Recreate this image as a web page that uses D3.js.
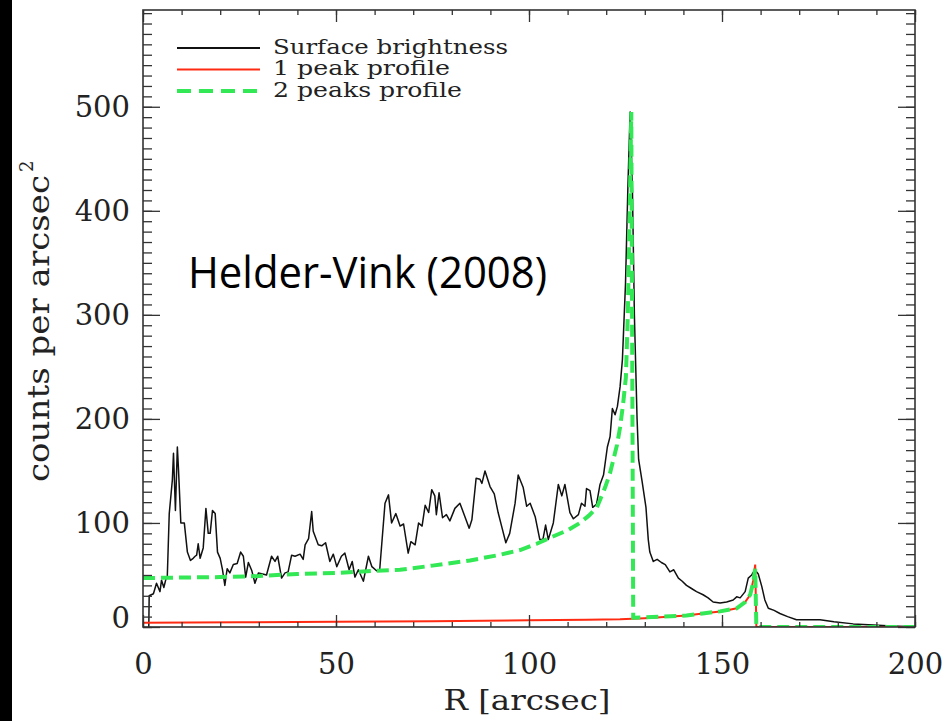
<!DOCTYPE html>
<html>
<head>
<meta charset="utf-8">
<script src="https://cdn.jsdelivr.net/npm/d3@7"></script>
<style>
  body { margin: 0; background: #fff; }
  #chart { width: 945px; height: 721px; }
  .axis text { font-family: "DejaVu Serif", serif; fill: #222; }
</style>
</head>
<body>
<div id="chart"></div>
<script>
/* surface brightness profile (R in arcsec, counts) */
const sbRadius = [1.5, 1.6, 2.7, 3.5, 4.4, 4.8, 5.4, 6.0, 6.3, 6.8, 7.6, 7.9, 8.4, 8.9, 9.2, 9.8, 10.7, 11.5, 12.3, 13.0,
  13.5, 13.9, 14.3, 14.8, 15.6, 16.3, 16.9, 17.4, 18.0, 18.7, 19.3, 20.0, 20.6, 21.2, 21.8, 22.5, 23.4, 24.4, 25.3, 26.0,
  26.6, 27.3, 28.2, 29.0, 29.9, 31.0, 32.0, 33.3, 34.2, 34.9, 35.9, 36.8, 37.6, 38.5, 39.4, 40.7, 41.5, 42.0, 42.9, 43.7,
  44.1, 45.4, 46.3, 47.3, 48.4, 49.3, 50.2, 51.4, 52.3, 53.4, 54.2, 54.9, 55.8, 57.1, 58.4, 59.3, 60.5, 61.3, 62.7, 63.6,
  64.4, 65.5, 66.6, 67.5, 68.7, 69.4, 70.5, 71.4, 72.3, 73.1, 74.0, 74.8, 75.6, 76.0, 76.7, 77.6, 78.6, 79.5, 80.8, 82.1,
  83.4, 84.5, 85.2, 86.3, 87.3, 87.8, 88.6, 89.9, 91.0, 92.0, 92.9, 94.0, 95.0, 96.4, 97.2, 98.5, 99.4, 100.3, 101.6, 102.8,
  103.6, 104.3, 105.0, 106.3, 107.6, 108.5, 109.3, 110.6, 111.5, 112.8, 113.6, 114.5, 114.9, 115.8, 116.5, 117.5, 118.4, 119.3, 120.3, 121.0,
  121.6, 122.3, 122.9, 123.6, 124.2, 125.0, 125.6, 126.2, 126.8, 127.3, 127.6, 128.0, 128.4, 129.3, 130.3, 130.9, 131.3, 132.2, 133.2, 134.3,
  135.3, 136.5, 137.5, 138.7, 139.7, 140.8, 142.1, 143.4, 145.1, 146.4, 147.7, 149.5, 151.2, 152.9, 153.8, 154.7, 156.0, 156.8, 157.7, 158.5,
  159.4, 160.3, 161.1, 162.0, 163.5, 165.0, 167.0, 169.3, 172.0, 175.4, 179.0, 184.0, 189.2, 194.0, 197.8, 200.0];
const sbCounts = [0, 30, 32, 42, 34, 45, 38, 47, 49, 109, 141, 167, 112, 173, 151, 100, 100, 72, 64, 66,
  68, 69, 80, 66, 76, 114, 90, 90, 112, 109, 72, 66, 55, 40, 56, 52, 60, 61, 72, 68,
  48, 62, 54, 42, 52, 51, 50, 68, 63, 68, 47, 52, 53, 69, 68, 70, 65, 79, 85, 111,
  92, 79, 78, 81, 63, 70, 58, 68, 71, 55, 63, 48, 55, 44, 68, 58, 54, 54, 119, 127,
  100, 109, 97, 99, 71, 82, 79, 100, 97, 117, 110, 132, 126, 108, 129, 105, 108, 102, 114, 119,
  106, 95, 103, 143, 142, 138, 150, 135, 128, 110, 97, 81, 90, 119, 146, 134, 116, 119, 106, 84,
  84, 98, 84, 100, 137, 126, 137, 110, 104, 108, 119, 116, 133, 131, 115, 118, 137, 146, 173, 183,
  210, 204, 212, 231, 257, 330, 420, 495, 420, 300, 257, 200, 161, 140, 115, 84, 72, 63, 65, 62,
  60, 53, 55, 47, 44, 40, 37, 34, 31, 28, 24, 23, 24, 26, 29, 28, 34, 47, 50, 55,
  51, 39, 26, 18, 16, 13, 10, 7, 7, 7, 5, 3, 2, 1, 0.5, 0];

/* 1 peak profile */
const onePeakRadius = [0, 25, 50, 75, 100, 115, 123.6, 130, 135, 140.8, 145, 149.5, 152, 153.8, 156, 157.3, 158.1, 158.6, 158.9, 200];
const onePeakCounts = [4, 4.5, 5, 5.5, 6.5, 7, 7.5, 8.5, 9.5, 11, 13, 15, 16.5, 18, 24, 31, 45, 60, 0, 0];

/* 2 peaks profile */
const twoPeakRadius = [0, 10, 20, 30, 40, 50, 60, 66.6, 75, 84.7, 92, 97.7, 102, 106.2, 110, 113.2, 115.5, 117.6, 119.7, 121,
  121.8, 122.8, 123.6, 124.4, 125.1, 125.6, 126.1, 126.5, 127.0, 135, 140.8, 145, 149.5, 153.8, 156, 157.3, 158.1, 158.6, 158.9, 200];
const twoPeakCounts = [47, 47.5, 48, 49, 51, 52, 54, 55, 59, 64, 69, 74, 80, 87, 93, 100, 107, 115, 134, 148,
  160, 175, 192, 215, 240, 300, 400, 495, 9, 10, 11, 13, 15, 18, 24, 31, 43, 56, 0, 0];

const xTicks = [0, 50, 100, 150, 200];
const yTicks = [0, 100, 200, 300, 400, 500];
const legendLabels = ["Surface brightness", "1 peak profile", "2 peaks profile"];
const legendWidths = [235, 177, 189];

const width = 945, height = 721;
const margin = { top: 10, left: 143, right: 30, bottom: 94 };

const svg = d3.select("#chart")
    .append("svg")
    .attr("width", width)
    .attr("height", height);

// black strip on the left edge of the slide
svg.append("rect").attr("x", 0).attr("y", 0).attr("width", 12).attr("height", height).attr("fill", "#000");

const xScale = d3.scaleLinear().domain([0, 200]).range([margin.left, width - margin.right]);
const yScale = d3.scaleLinear().domain([0, 593]).range([height - margin.bottom, margin.top]);

svg.append("clipPath").attr("id", "plot-clip")
    .append("rect")
    .attr("x", margin.left).attr("y", margin.top)
    .attr("width", width - margin.left - margin.right)
    .attr("height", height - margin.top - margin.bottom);

const line = d3.line().x(d => xScale(d[0])).y(d => yScale(d[1]));
const zip = (a, b) => a.map((r, i) => [r, b[i]]);

const plot = svg.append("g").attr("clip-path", "url(#plot-clip)");

plot.append("path")
    .attr("d", line(zip(sbRadius, sbCounts)))
    .attr("fill", "none").attr("stroke", "#111").attr("stroke-width", 1.5)
    .attr("stroke-linejoin", "round");

plot.append("path")
    .attr("d", line(zip(onePeakRadius, onePeakCounts)))
    .attr("fill", "none").attr("stroke", "#ff2a12").attr("stroke-width", 2);

plot.append("path")
    .attr("d", line(zip(twoPeakRadius, twoPeakCounts)))
    .attr("fill", "none").attr("stroke", "#33e855").attr("stroke-width", 4)
    .attr("stroke-dasharray", "12,6");

// axes: IDL style box with inward ticks
const yBottom = height - margin.bottom, xRight = width - margin.right;

svg.append("g").attr("class", "axis").attr("transform", `translate(0,${yBottom})`)
    .call(d3.axisBottom(xScale).tickValues(d3.range(0, 201, 10)).tickSize(-5).tickSizeOuter(0).tickFormat(""));
const xAxis = svg.append("g").attr("class", "axis").attr("transform", `translate(0,${yBottom})`)
    .call(d3.axisBottom(xScale).tickValues(xTicks).tickSize(-12).tickSizeOuter(0).tickPadding(26));
svg.append("g").attr("class", "axis").attr("transform", `translate(0,${margin.top})`)
    .call(d3.axisTop(xScale).tickValues(d3.range(0, 201, 10)).tickSize(-5).tickSizeOuter(0).tickFormat(""));
svg.append("g").attr("class", "axis").attr("transform", `translate(0,${margin.top})`)
    .call(d3.axisTop(xScale).tickValues(xTicks).tickSize(-12).tickSizeOuter(0).tickFormat(""));

svg.append("g").attr("class", "axis").attr("transform", `translate(${margin.left},0)`)
    .call(d3.axisLeft(yScale).tickValues(d3.range(0, 591, 10)).tickSize(-9).tickSizeOuter(0).tickFormat(""));
const yAxis = svg.append("g").attr("class", "axis").attr("transform", `translate(${margin.left},0)`)
    .call(d3.axisLeft(yScale).tickValues(yTicks).tickSize(-17).tickSizeOuter(0).tickPadding(13));
svg.append("g").attr("class", "axis").attr("transform", `translate(${xRight},0)`)
    .call(d3.axisRight(yScale).tickValues(d3.range(0, 591, 10)).tickSize(-9).tickSizeOuter(0).tickFormat(""));
svg.append("g").attr("class", "axis").attr("transform", `translate(${xRight},0)`)
    .call(d3.axisRight(yScale).tickValues(yTicks).tickSize(-17).tickSizeOuter(0).tickFormat(""));

svg.selectAll(".axis .domain").remove();
svg.selectAll(".axis line").attr("stroke", "#333").attr("stroke-width", 1.3);
xAxis.selectAll("text").attr("font-size", 29);
yAxis.selectAll("text").attr("font-size", 29);
// the zero label sits a little above its tick in the original
yAxis.selectAll(".tick text").filter(d => d === 0).attr("transform", "translate(0,-9)");

svg.append("rect")
    .attr("x", margin.left).attr("y", margin.top)
    .attr("width", xRight - margin.left).attr("height", yBottom - margin.top)
    .attr("fill", "none").attr("stroke", "#333").attr("stroke-width", 1.6);

// axis titles
svg.append("text")
    .attr("x", xScale(100) - 2).attr("y", 710)
    .attr("text-anchor", "middle")
    .attr("font-family", "DejaVu Serif").attr("font-size", 28).attr("fill", "#222")
    .attr("textLength", 167).attr("lengthAdjust", "spacingAndGlyphs")
    .text("R [arcsec]");

const yTitle = svg.append("g").attr("transform", "translate(49,482) rotate(-90)");
yTitle.append("text")
    .attr("x", 0).attr("y", 0)
    .attr("font-family", "DejaVu Serif").attr("font-size", 29).attr("fill", "#222")
    .attr("textLength", 307).attr("lengthAdjust", "spacingAndGlyphs")
    .text("counts per arcsec");
yTitle.append("text")
    .attr("x", 310).attr("y", -16)
    .attr("font-family", "DejaVu Serif").attr("font-size", 18).attr("fill", "#222")
    .text("2");

// legend
const legendColors = ["#111", "#ff2a12", "#33e855"];
const legend = svg.append("g");
legendLabels.forEach((label, i) => {
    const ly = 48 + i * 21.5;
    legend.append("line")
        .attr("x1", 177).attr("x2", 260).attr("y1", ly).attr("y2", ly)
        .attr("stroke", legendColors[i])
        .attr("stroke-width", i === 2 ? 4 : 1.8)
        .attr("stroke-dasharray", i === 2 ? "14,8" : null);
    legend.append("text")
        .attr("x", 273).attr("y", ly + 5.5)
        .attr("font-family", "DejaVu Serif").attr("font-size", 20).attr("fill", "#222")
        .attr("textLength", legendWidths[i]).attr("lengthAdjust", "spacingAndGlyphs")
        .text(label);
});

// annotation on the slide
svg.append("text")
    .attr("x", 188).attr("y", 288)
    .attr("font-family", "Open Sans, sans-serif").attr("font-size", 44).attr("fill", "#000")
    .attr("textLength", 359).attr("lengthAdjust", "spacingAndGlyphs")
    .text("Helder-Vink (2008)");
</script>
</body>
</html>
